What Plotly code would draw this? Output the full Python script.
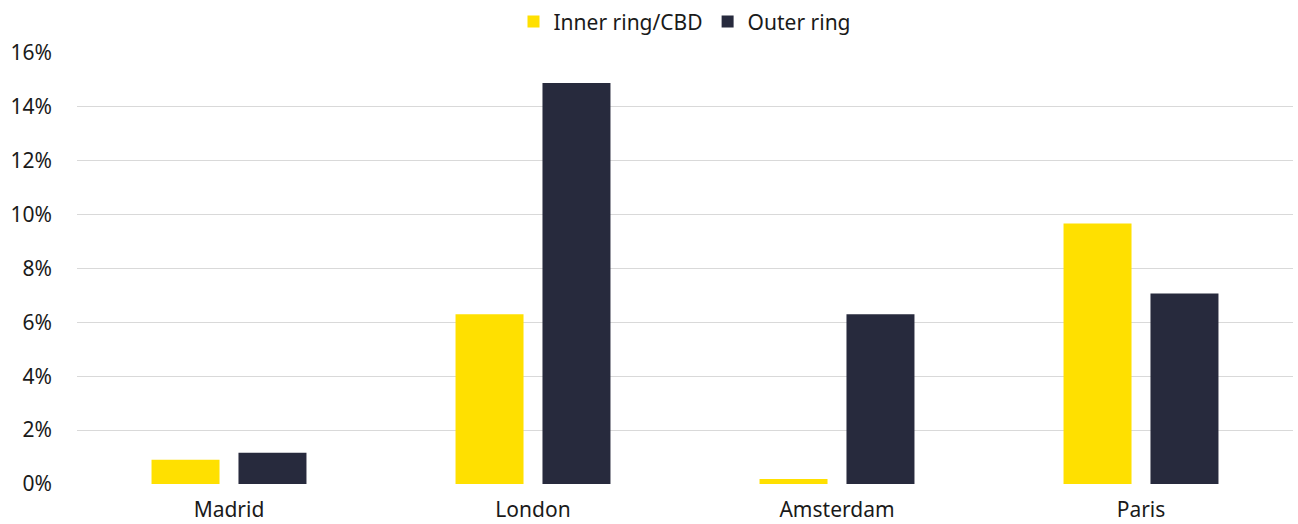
import plotly.graph_objects as go

cities = ["Madrid", "London", "Amsterdam", "Paris"]
inner_ring = [0.90, 6.30, 0.19, 9.67]
outer_ring = [1.16, 14.89, 6.30, 7.07]
y_ticks = [0, 2, 4, 6, 8, 10, 12, 14, 16]
y_tick_labels = [f"{v}%" for v in y_ticks]

FONT = "'Noto Sans', 'Open Sans', sans-serif"

fig = go.Figure()
fig.add_trace(go.Bar(x=cities, y=inner_ring, name="Inner ring/CBD",
                     marker=dict(color="#FFE000", line=dict(width=0))))
fig.add_trace(go.Bar(x=cities, y=outer_ring, name="Outer ring",
                     marker=dict(color="#272A3D", line=dict(width=0))))

fig.update_layout(
    width=1298, height=524,
    margin=dict(l=77, r=5, t=53, b=40, autoexpand=False),
    paper_bgcolor="white", plot_bgcolor="white",
    barmode="group", bargap=0.428, bargroupgap=0.218,
    font=dict(family=FONT, size=21, color="#1a1a1a"),
    legend=dict(orientation="h", x=0.5, xanchor="center", y=1.072, yanchor="middle",
                font=dict(size=21), itemwidth=30, traceorder="normal"),
    xaxis=dict(showgrid=False, showline=False, ticks="", tickfont=dict(size=21),
               ticklabelstandoff=11, automargin=False),
    yaxis=dict(range=[0, 16], tickvals=y_ticks, ticktext=y_tick_labels,
               showgrid=True, gridcolor="#D9D9D9", gridwidth=1,
               zeroline=False, showline=False, ticks="", ticklabelstandoff=24,
               tickfont=dict(size=21), automargin=False),
)

fig.write_html("out.html")
